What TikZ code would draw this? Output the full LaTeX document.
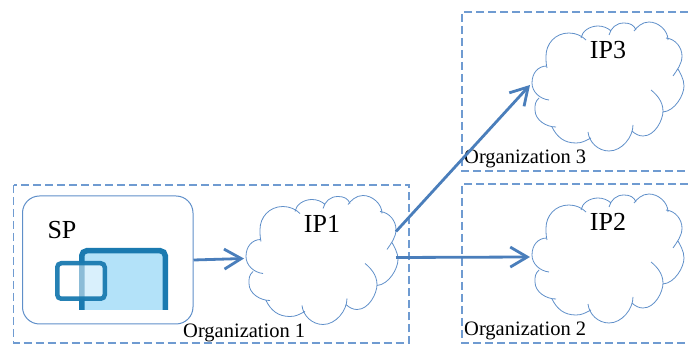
\documentclass[tikz,border=0pt]{standalone}
\usepackage{fontspec}
\setmainfont{Liberation Serif}
\usetikzlibrary{arrows.meta}
\definecolor{orgblue}{HTML}{6F9BD1}
\definecolor{lineblue}{HTML}{5F8FC9}
\definecolor{arrowblue}{HTML}{4A7EBB}
\definecolor{iconblue}{HTML}{1A7AB0}
\definecolor{iconfill}{HTML}{B3E2F9}
\tikzset{
	orgbox/.style = {draw=orgblue, line width=1.5pt, dash pattern=on 8pt off 4pt},
	orglabel/.style = {font=\fontsize{20.5}{20.5}\selectfont, anchor=west, inner sep=0pt},
	iplabel/.style = {font=\fontsize{26}{26}\selectfont, inner sep=0pt},
	link/.style = {draw=arrowblue, line width=2.8pt, -{Straight Barb[length=17pt, width=20pt, line width=2.8pt]}},
	ipcloud/.pic = {
		\coordinate (-west) at (-2, 2);
		\coordinate (-east) at (150, 1);
		\coordinate (-ne) at (150, -25);
		\draw[draw=lineblue, line width=0.8pt]
			(15, -17) .. controls +(-9, 0) and +(0, -10) .. (0, 0) .. controls +(0, 9) and +(-9, -1) .. (17, 17)
			(7, 15) .. controls +(-4, 4) and +(0, -6) .. (3, 27) .. controls +(0, 10) and +(-10, 0) .. (24, 44)
			(20, 44) .. controls +(5, 10) and +(-12, 0) .. (44, 60) .. controls +(6, 0) and +(-6, 3) .. (59, 55)
			(56, 49) .. controls +(1, 10) and +(-11, 0) .. (77, 68) .. controls +(13, 0) and +(0, 12) .. (101, 42)
			(100, 48) .. controls +(3, 3) and +(-4, 0) .. (111, 53) .. controls +(12, 0) and +(0, 9) .. (131, 28) .. controls +(0, -10) and +(5, 4) .. (119, 7)
			(131, 29) .. controls +(12, -1) and +(0, 9) .. (152, 3) .. controls +(0, -7) and +(2, 4) .. (146, -14)
			(134, -45) .. controls +(10, 1) and +(0, -8) .. (150, -27) .. controls +(0, 8) and +(4, -6) .. (141, -7)
			(136, -43) .. controls +(0, -10) and +(9, 0) .. (117, -61) .. controls +(-7, 0) and +(3, -4) .. (102, -52)
			(104, -53) .. controls +(-2, -5) and +(6, 0) .. (92, -60) .. controls +(-8, 0) and +(2, -7) .. (77, -48)
			(79, -52) .. controls +(-3, -3) and +(5, 0) .. (66, -57) .. controls +(-8, 0) and +(1, -7) .. (49, -45)
			(54, -43) .. controls +(-4, -4) and +(7, 0) .. (37, -50) .. controls +(-14, 0) and +(0, -12) .. (14, -27) .. controls +(0, 4) and +(-1, -4) .. (15, -15);
		\node[iplabel] (-label) at (76, -33) {#1};
	}
}
\begin{document}
\begin{tikzpicture}[x=1pt, y=-1pt]
\useasboundingbox (0, 0) rectangle (688, 344);
% organizations
\draw[orgbox] (13.5, 185) rectangle (409, 343);
\draw[orgbox] (688, 12) -- (462, 12) -- (462, 171) -- (688, 171);
\draw[orgbox] (688, 184) -- (462, 184) -- (462, 343) -- (688, 343);
\node[orglabel] (org1) at (183, 333) {Organization 1};
\node[orglabel] (org2) at (464, 331) {Organization 2};
\node[orglabel] (org3) at (464, 159) {Organization 3};
% service provider
\node[draw=lineblue, line width=1pt, rounded corners=17pt, minimum width=170.5pt, minimum height=128pt, inner sep=0pt] (sp) at (107.75, 260) {};
\node[iplabel] (splabel) at (62, 230) {SP};
% icon
\fill[iconfill, rounded corners=3pt] (81, 310) -- (81, 250) -- (166, 250) -- (166, 310) -- cycle;
\draw[iconblue, line width=5.5pt, rounded corners=5pt] (81.75, 310) -- (81.75, 250.75) -- (165.25, 250.75) -- (165.25, 310);
\draw[iconblue, line width=4.5pt, fill=white, fill opacity=0.5, draw opacity=0.95, rounded corners=4pt] (57.25, 263.25) rectangle (104.75, 298.75);
% identity providers
\pic (ip1) at (246, 256.5) {ipcloud={IP1}};
\pic (ip2) at (532, 255) {ipcloud={IP2}};
\pic (ip3) at (532, 83) {ipcloud={IP3}};
\draw[link] (sp.east) -- (ip1-west);
\draw[link] (ip1-east) -- (ip2-west);
\draw[link] (ip1-ne) -- (ip3-west);
\end{tikzpicture}
\end{document}
